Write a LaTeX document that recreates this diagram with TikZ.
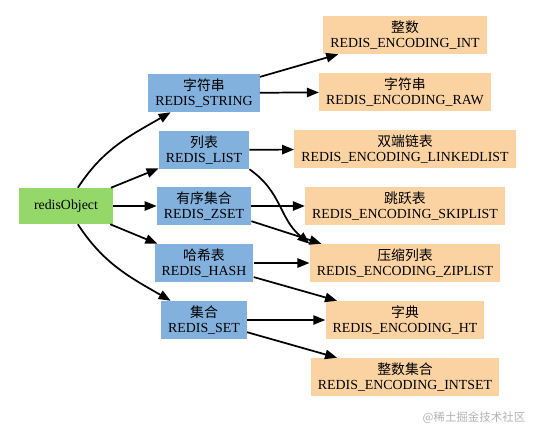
\documentclass[tikz,border=0pt]{standalone}
\usepackage{fontspec}
\setmainfont{Liberation Serif}
\newfontfamily\cjk{Noto Sans CJK SC}
\usetikzlibrary{arrows.meta}
\definecolor{objgreen}{RGB}{149,216,106}
\definecolor{typblue}{RGB}{130,177,221}
\definecolor{encorange}{RGB}{251,211,163}
\tikzset{
  box/.style={inner xsep=5.3pt, inner ysep=0pt, minimum height=28.5pt, align=center, font=\fontsize{10.4}{11}\selectfont},
  objbox/.style={box, fill=objgreen, minimum width=70pt, minimum height=27pt},
  typbox/.style={box, fill=typblue},
  encbox/.style={box, fill=encorange},
  arr/.style={-{Triangle[length=9pt,width=7pt]}, line width=1.3pt},
}
\begin{document}
\begin{tikzpicture}[x=0.75pt, y=0.75pt, line join=round]
  \useasboundingbox (0,0) rectangle (536,-437);
  % object
  \node[objbox] (obj) at (66,-206) {redisObject};
  % types
  \node[typbox] (str)  at (204,-93)  {{\cjk 字符串}\\REDIS\_STRING};
  \node[typbox] (lst)  at (204,-150) {{\cjk 列表}\\REDIS\_LIST};
  \node[typbox] (zset) at (204,-206) {{\cjk 有序集合}\\REDIS\_ZSET};
  \node[typbox] (hash) at (204,-263) {{\cjk 哈希表}\\REDIS\_HASH};
  \node[typbox] (set)  at (204,-320) {{\cjk 集合}\\REDIS\_SET};
  % encodings
  \node[encbox] (int)    at (405,-35)  {{\cjk 整数}\\REDIS\_ENCODING\_INT};
  \node[encbox] (raw)    at (405,-92)  {{\cjk 字符串}\\REDIS\_ENCODING\_RAW};
  \node[encbox] (linked) at (405,-149) {{\cjk 双端链表}\\REDIS\_ENCODING\_LINKEDLIST};
  \node[encbox] (skip)   at (405,-206) {{\cjk 跳跃表}\\REDIS\_ENCODING\_SKIPLIST};
  \node[encbox] (zip)    at (405,-263) {{\cjk 压缩列表}\\REDIS\_ENCODING\_ZIPLIST};
  \node[encbox] (ht)     at (405,-320) {{\cjk 字典}\\REDIS\_ENCODING\_HT};
  \node[encbox] (intset) at (405,-377) {{\cjk 整数集合}\\REDIS\_ENCODING\_INTSET};
  % object -> types
  \draw[arr] (obj) to[out=57, in=210] (str);
  \draw[arr] (obj) -- (lst);
  \draw[arr] (obj) -- (zset);
  \draw[arr] (obj) -- (hash);
  \draw[arr] (obj) to[out=-57, in=150] (set);
  % types -> encodings
  \draw[arr] (str) -- (int);
  \draw[arr] (str) -- (raw);
  \draw[arr] (lst) -- (linked);
  \draw[arr] (lst.south east) .. controls +(-35:40) and +(140:40) .. (zip.north west);
  \draw[arr] (zset) -- (skip);
  \draw[arr] (zset) -- ([xshift=9pt]zip.north west);
  \draw[arr] (hash) -- (zip);
  \draw[arr] (hash) -- (ht);
  \draw[arr] (set) -- (ht);
  \draw[arr] (set) -- (intset);
  % watermark
  \node[text=black!30, font=\cjk\fontsize{8.6}{10}\selectfont] (mark) at (474,-418) {@稀土掘金技术社区};
\end{tikzpicture}
\end{document}
